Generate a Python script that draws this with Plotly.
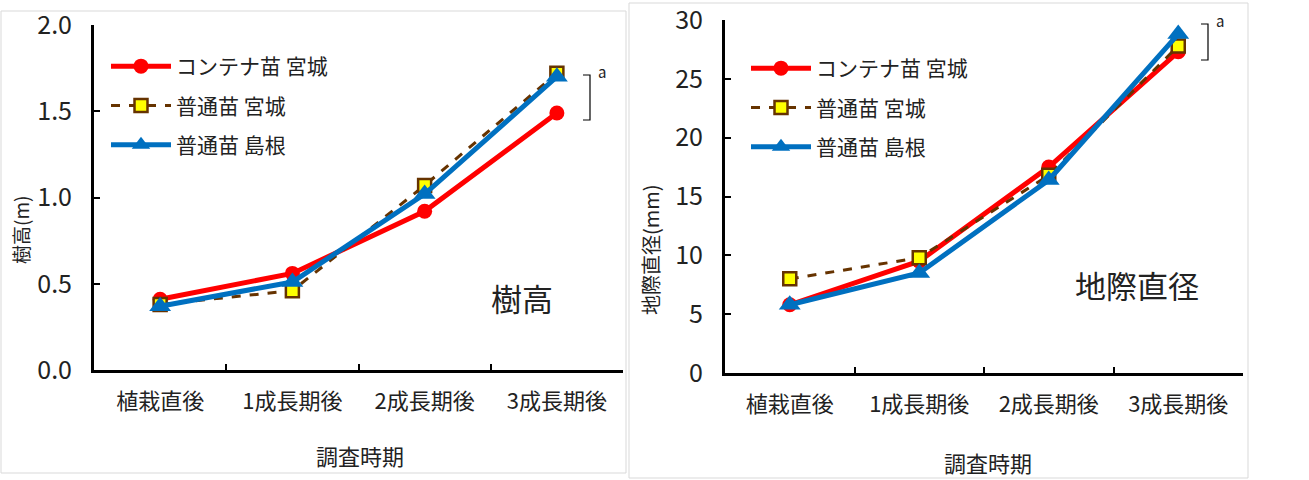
import plotly.graph_objects as go

W, H = 1309, 480

categories = ["植栽直後", "1成長期後", "2成長期後", "3成長期後"]
series_names = ["コンテナ苗 宮城", "普通苗 宮城", "普通苗 島根"]

height_container_miyagi = [0.41, 0.56, 0.92, 1.49]
height_normal_miyagi = [0.38, 0.46, 1.07, 1.72]
height_normal_shimane = [0.37, 0.51, 1.02, 1.70]

diam_container_miyagi = [5.8, 9.5, 17.5, 27.3]
diam_normal_miyagi = [8.0, 9.8, 16.8, 27.8]
diam_normal_shimane = [5.8, 8.5, 16.4, 28.8]

height_ticks = [0, 0.5, 1.0, 1.5, 2.0]
diam_ticks = [0, 5, 10, 15, 20, 25, 30]

FONT = "Noto Sans CJK JP"

def px(x):
    return x / W

def py(y):
    return 1 - y / H

styles = [
    dict(line=dict(color="#FF0000", width=5), marker=dict(symbol="circle", size=15, color="#FF0000")),
    dict(line=dict(color="#663300", width=3, dash="dash"),
         marker=dict(symbol="square", size=13, color="#FFFF00", line=dict(color="#663300", width=2.5))),
    dict(line=dict(color="#0070C0", width=5), marker=dict(symbol="triangle-up", size=19, color="#0070C0")),
]

fig = go.Figure()
left_data = [height_container_miyagi, height_normal_miyagi, height_normal_shimane]
right_data = [diam_container_miyagi, diam_normal_miyagi, diam_normal_shimane]
for i, (name, ys, st) in enumerate(zip(series_names, left_data, styles)):
    fig.add_trace(go.Scatter(x=categories, y=ys, name=name, mode="lines+markers",
                             xaxis="x", yaxis="y", legend="legend", legendgroup=f"L{i}", **st))
for i, (name, ys, st) in enumerate(zip(series_names, right_data, styles)):
    fig.add_trace(go.Scatter(x=categories, y=ys, name=name, mode="lines+markers",
                             xaxis="x2", yaxis="y2", legend="legend2", legendgroup=f"R{i}", **st))

tickfont = dict(family=FONT, size=25, color="#222")
xcommon = dict(type="category", tickson="boundaries", ticks="inside", ticklen=6,
               showline=True, linecolor="black", linewidth=3, tickcolor="black", tickwidth=2,
               showgrid=False, zeroline=False, tickfont=dict(family=FONT, size=22, color="#222"),
               ticklabelstandoff=10, range=[-0.5, 3.5], fixedrange=True, automargin=False)
ycommon = dict(ticks="inside", ticklen=6, showline=True, linecolor="black", linewidth=3,
               tickcolor="black", tickwidth=2, showgrid=False, zeroline=False,
               tickfont=tickfont, ticklabelstandoff=14, automargin=False,
               ticklabeloverflow="allow")

fig.update_layout(
    template="none",
    width=W, height=H,
    margin=dict(l=0, r=0, t=0, b=0, autoexpand=False),
    paper_bgcolor="white", plot_bgcolor="rgba(0,0,0,0)",
    font=dict(family=FONT, color="#222"),
    xaxis=dict(domain=[px(94), px(623)], anchor="y", **xcommon),
    yaxis=dict(domain=[py(370), py(25)], anchor="x", range=[0, 2.0],
               tickvals=height_ticks, ticktext=[f"{v:.1f}" for v in height_ticks], **ycommon),
    xaxis2=dict(domain=[px(725), px(1243)], anchor="y2", **xcommon),
    yaxis2=dict(domain=[py(373), py(20)], anchor="x2", range=[0, 30.0001],
                tickvals=diam_ticks, ticktext=[str(v) for v in diam_ticks], **ycommon),
    legend=dict(x=px(106), y=py(46), xanchor="left", yanchor="top", bgcolor="rgba(0,0,0,0)",
                font=dict(family=FONT, size=21, color="#222"), tracegroupgap=9, itemwidth=60),
    legend2=dict(x=px(746), y=py(48), xanchor="left", yanchor="top", bgcolor="rgba(0,0,0,0)",
                 font=dict(family=FONT, size=21, color="#222"), tracegroupgap=9, itemwidth=60),
    showlegend=True,
)

shapes = [
    dict(type="rect", xref="paper", yref="paper", x0=px(1), x1=px(626), y0=py(473), y1=py(11),
         line=dict(color="#D9D9D9", width=1), layer="below"),
    dict(type="rect", xref="paper", yref="paper", x0=px(629), x1=px(1248), y0=py(478), y1=py(3),
         line=dict(color="#D9D9D9", width=1), layer="below"),
    dict(type="path", xref="paper", yref="paper",
         path=f"M {px(583)},{py(75)} H {px(590)} V {py(120)} H {px(583)}",
         line=dict(color="black", width=1.2)),
    dict(type="path", xref="paper", yref="paper",
         path=f"M {px(1201)},{py(24)} H {px(1208)} V {py(60)} H {px(1201)}",
         line=dict(color="black", width=1.2)),
]
fig.update_layout(shapes=shapes)

def ann(text, x, y, size, angle=0):
    return dict(text=text, x=px(x), y=py(y), xref="paper", yref="paper", showarrow=False,
                xanchor="center", yanchor="middle", textangle=angle,
                font=dict(family=FONT, size=size, color="#222"))

annotations = [
    ann("樹高", 522, 297, 31),
    ann("地際直径", 1137, 284, 31),
    ann("a", 602, 71, 15),
    ann("a", 1220, 21, 15),
    ann("樹高(m)", 20, 230, 19, -90),
    ann("地際直径(mm)", 650, 250, 20, -90),
    ann("調査時期", 360, 455, 22),
    ann("調査時期", 988, 462, 22),
]
fig.update_layout(annotations=annotations)

fig.write_html("out.html", config={"displayModeBar": False},
               post_script="document.body.style.margin='0';")
